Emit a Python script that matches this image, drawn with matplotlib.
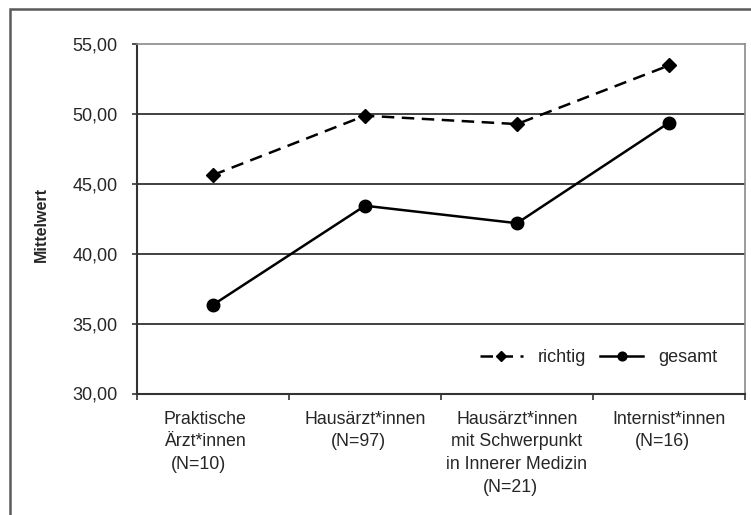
import matplotlib.pyplot as plt
from matplotlib.patches import Rectangle
from matplotlib.ticker import FuncFormatter

# Mittelwerte je Gruppe
categories = ["Praktische\nÄrzt*innen\n(N=10)",
              "Hausärzt*innen\n(N=97)",
              "Hausärzt*innen\nmit Schwerpunkt\nin Innerer Medizin\n(N=21)",
              "Internist*innen\n(N=16)"]
richtig = [45.65, 49.9, 49.3, 53.5]
gesamt = [36.35, 43.45, 42.2, 49.4]
yticks = [30, 35, 40, 45, 50, 55]

plt.rcParams['font.family'] = ['Liberation Sans', 'DejaVu Sans']
text_color = '#262626'

fig = plt.figure(figsize=(7.51, 5.15), dpi=100)
ax = fig.add_axes([137 / 751, 1 - 393.5 / 515, 608 / 751, 349 / 515])

# outer frame of the chart object (cut off at right and bottom)
fig.patches.append(Rectangle((10 / 751, -0.1), 1.2, 1.1 - 8.7 / 515,
                             transform=fig.transFigure, fill=False,
                             edgecolor='#5a5a5a', lw=1.8))

x = list(range(len(categories)))
ax.plot(x, richtig, color='black', lw=1.8, linestyle=(0, (5, 3)),
        marker='D', ms=7.5, label='richtig')
ax.plot(x, gesamt, color='black', lw=1.8, marker='o', ms=9, label='gesamt')

ax.set_xlim(-0.5, len(categories) - 0.5)
ax.set_ylim(min(yticks), max(yticks))

# grid lines
for v in yticks[1:-1]:
    ax.axhline(v, color='#404040', lw=1.4, zorder=0)

ax.spines['top'].set_color('#8a8a8a')
ax.spines['right'].set_color('#8a8a8a')
ax.spines['top'].set_linewidth(1.2)
ax.spines['right'].set_linewidth(1.2)
ax.spines['left'].set_color('#333333')
ax.spines['bottom'].set_color('#333333')
ax.spines['left'].set_linewidth(1.5)
ax.spines['bottom'].set_linewidth(1.5)

ax.set_yticks(yticks)
ax.yaxis.set_major_formatter(FuncFormatter(lambda v, p: f"{v:.2f}".replace('.', ',')))
ax.tick_params(axis='y', length=3.6, width=1.2, color='#333333', pad=10.5,
               labelsize=13, labelcolor=text_color)

ax.set_xticks([i - 0.5 for i in range(len(categories) + 1)])
ax.set_xticklabels([])
ax.tick_params(axis='x', length=4.3, width=1.2, color='#333333')

# category labels, line by line
for i, lab in enumerate(categories):
    for j, line in enumerate(lab.split('\n')):
        dx = -7 if line.startswith('(N=') else 0
        if i == 0:
            dx -= 8
        ax.annotate(line, xy=(i, 0), xycoords=ax.get_xaxis_transform(),
                    xytext=(dx, -26 - 22.5 * j), textcoords='offset pixels',
                    ha='center', va='center', fontsize=12.8, color=text_color,
                    annotation_clip=False)

fig.text(41 / 751, 1 - 225 / 515, 'Mittelwert', rotation=90, ha='center',
         va='center', fontsize=11.5, fontweight='bold', color=text_color)

ax.legend(loc='center right', bbox_to_anchor=(0.954, 0.103), ncol=2,
          frameon=False, fontsize=13, handlelength=2.4, handletextpad=0.8,
          columnspacing=0.8, borderpad=0, borderaxespad=0, markerscale=0.7,
          labelcolor=text_color)

fig.savefig('out.png', dpi=100)
